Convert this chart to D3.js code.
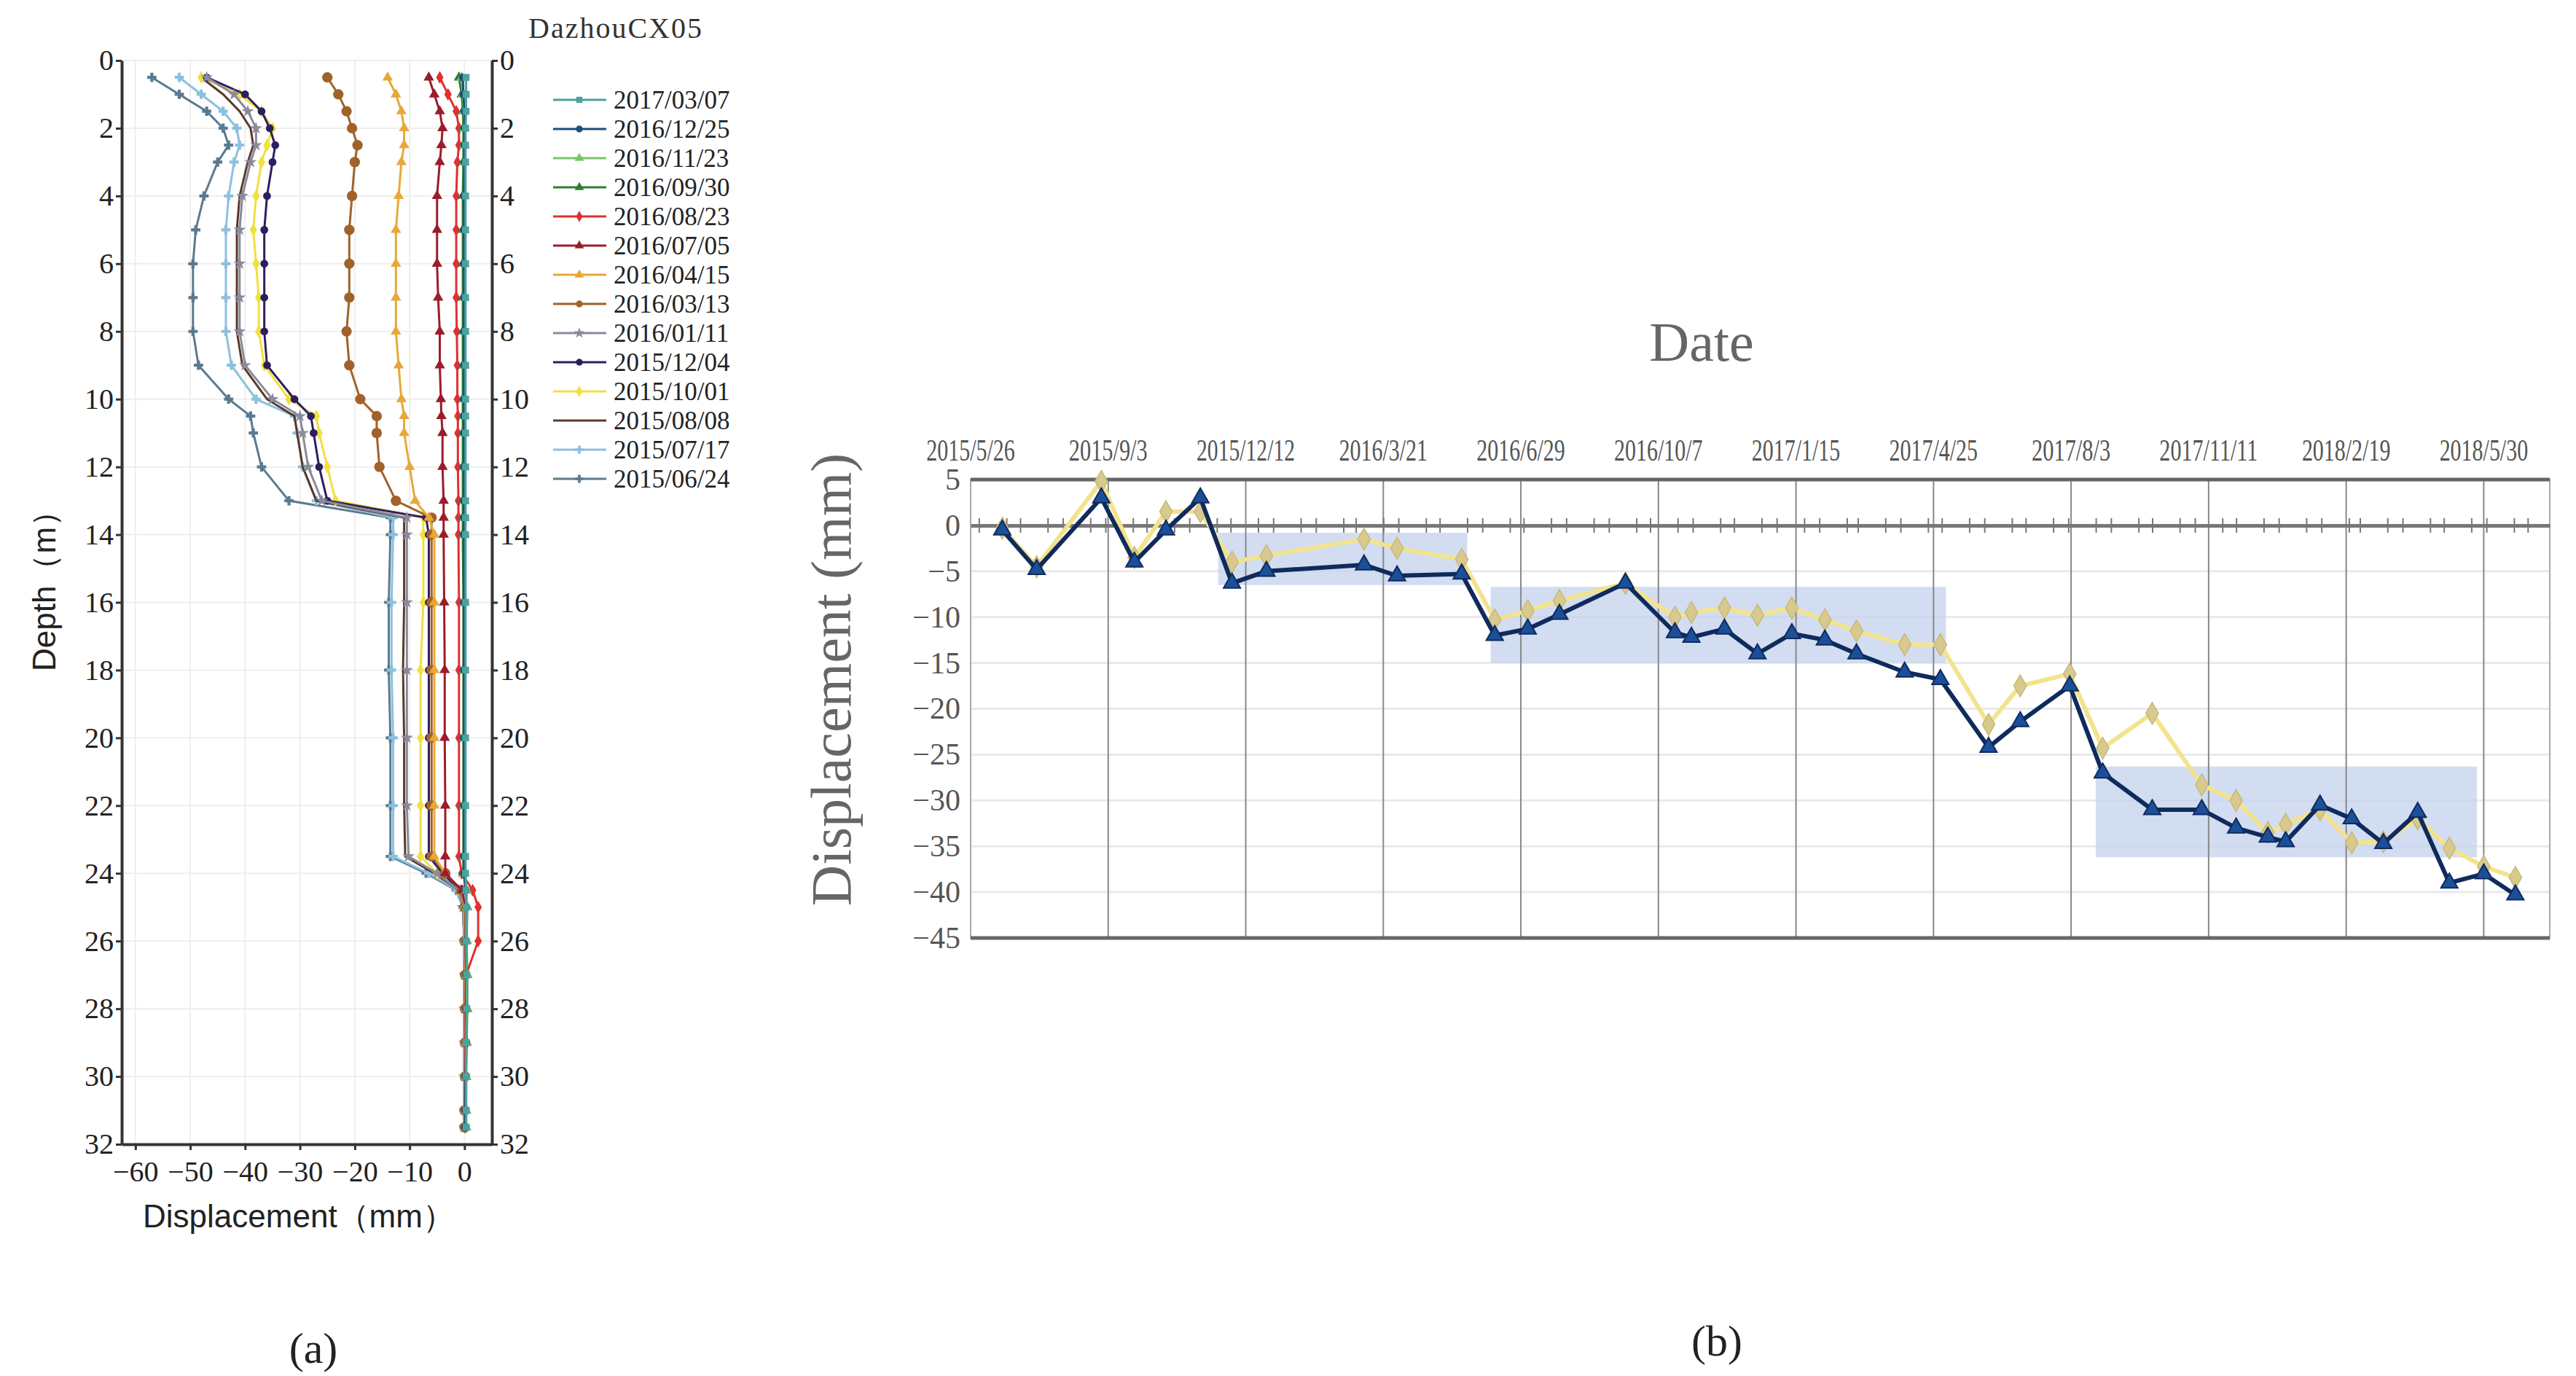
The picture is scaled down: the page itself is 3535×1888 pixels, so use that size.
<!DOCTYPE html>
<html>
<head>
<meta charset="utf-8">
<script src="https://cdn.jsdelivr.net/npm/d3@7"></script>
<style>
  body { margin: 0; background: #fff; }
  svg { display: block; }
</style>
</head>
<body>
<svg id="chart" width="3535" height="1888"></svg>
<script>
// ---------- panel (a) data: depth profiles ----------
const depths = [0.5, 1, 1.5, 2, 2.5, 3, 4, 5, 6, 7, 8, 9, 10, 10.5, 11, 12, 13, 13.5, 14, 16, 18, 20, 22, 23.5, 24, 24.5, 25, 26, 27, 28, 29, 30, 31, 31.5];

const profileDates = ["2017/03/07", "2016/12/25", "2016/11/23", "2016/09/30", "2016/08/23", "2016/07/05", "2016/04/15",
  "2016/03/13", "2016/01/11", "2015/12/04", "2015/10/01", "2015/08/08", "2015/07/17", "2015/06/24"];
const profileColors = ["#4aa3a0", "#1f4e79", "#7cc46a", "#2e7d32", "#e03030", "#9b1c2c", "#e8a838",
  "#a0622a", "#8a8a9a", "#2d1f5e", "#f0e040", "#5a3a2a", "#8cc0e0", "#5a7a90"];
const profileSymbols = ["square", "circle", "triangle", "triangle", "diamond", "triangle", "triangle",
  "circle", "star", "circle", "diamond", null, "cross", "cross"];

const p0307 = [0.3, 0.3, 0.3, 0.2, 0.2, 0.2, 0.2, 0.2, 0.2, 0.2, 0.2, 0.2, 0.2, 0.2, 0.2, 0.2, 0.2, 0.2, 0.2, 0.2, 0.2, 0.2, 0.2, 0.2, 0.2, 0.3, 0.3, 0.3, 0.4, 0.4, 0.3, 0.3, 0.3, 0.3];
const p1225 = [-0.3, -0.2, 0, 0, 0, 0, -0.1, -0.1, -0.1, -0.1, -0.1, -0.1, -0.1, -0.1, -0.1, -0.1, -0.1, -0.1, -0.1, -0.1, -0.1, -0.1, -0.1, -0.1, -0.1, 0.2, 0.3, 0.2, 0.3, 0.3, 0.3, 0.2, 0.1, 0.1];
const p1123 = [-0.5, -0.3, -0.1, 0, 0, 0, 0, 0, 0, 0, 0, 0, 0, 0, 0, 0, 0, 0, 0, 0, 0, 0, 0, 0, 0, 0.4, 0.4, 0.3, 0.4, 0.4, 0.3, 0.3, 0.3, 0.3];
const p0930 = [-1, -0.5, -0.3, -0.2, -0.2, -0.2, -0.3, -0.3, -0.3, -0.3, -0.3, -0.3, -0.3, -0.3, -0.3, -0.3, -0.3, -0.3, -0.3, -0.2, -0.2, -0.2, -0.2, -0.2, -0.2, 0.3, 0.5, 0.4, 0.5, 0.5, 0.4, 0.3, 0.3, 0.3];
const p0823 = [-4.5, -3, -1.5, -1, -1, -1.3, -1.5, -1.5, -1.5, -1.5, -1.4, -1.3, -1.3, -1.2, -1.2, -1.2, -1.1, -1.1, -1.1, -1, -1, -1, -1, -1, -0.5, 1.5, 2.5, 2.5, 0.3, 0.2, 0.2, 0.2, 0.2, 0.2];
const p0705 = [-6.5, -5.5, -4.5, -4, -4.2, -4.5, -5, -5, -5, -4.8, -4.5, -4.5, -4.3, -4.2, -4, -4, -3.8, -3.8, -3.8, -3.7, -3.6, -3.6, -3.5, -3.5, -3.5, -0.5, 0.2, 0.2, 0.3, 0.3, 0.2, 0.2, 0.2, 0.2];
const p0415 = [-14, -12.5, -11.5, -11, -11, -11.5, -12, -12.5, -12.5, -12.5, -12.5, -12, -11.5, -11, -11, -10, -9, -6.5, -5.5, -5.5, -5.5, -5.5, -5.5, -5.5, -3.5, -0.5, 0, 0, 0.2, 0.2, 0.1, 0.1, 0.1, 0.1];
const p0313 = [-25, -23, -21.5, -20.5, -19.5, -20, -20.5, -21, -21, -21, -21.5, -21, -19, -16, -16, -15.5, -12.5, -6, -6, -6, -6, -6, -6, -6, -3.5, -0.5, 0, 0, 0.1, 0.1, 0.1, 0.1, 0, 0];
const p0111 = [-47, -42, -39.5, -38, -38, -39, -40.5, -41, -41, -41, -41, -40, -35, -30, -29.5, -28.5, -26, -10.5, -10.5, -10.5, -10.5, -10.5, -10.5, -10.2, -5, -1, -0.3, 0, 0, 0, 0, 0, 0, 0];
const p1204 = [-47, -40, -37, -35.5, -34.5, -35, -36, -36.5, -36.5, -36.5, -36.5, -36, -31, -28, -27.5, -26.5, -25, -7, -6.5, -6.5, -6.5, -6.5, -6.5, -6.5, -4, -0.8, -0.2, 0, 0, 0, 0, 0, 0, 0];
const p1001 = [-48, -41, -37, -35, -36, -37, -38, -38.5, -38, -37.5, -37.5, -36.5, -32, -27, -26.5, -25, -23.5, -7.5, -7.5, -7.5, -8, -8, -8, -8, -5, -1, -0.3, 0, 0, 0, 0, 0, 0, 0];
const p0808 = [-48, -44, -41, -39, -38.5, -39.5, -41, -41.5, -41.5, -41.5, -41.5, -40.5, -36, -31, -30.5, -29.5, -27, -11, -11, -11, -11.2, -11, -11, -10.8, -5.5, -1, -0.3, 0, 0, 0, 0, 0, 0, 0];
const p0717 = [-52, -48, -44, -41.5, -41, -42, -43, -43.5, -43.5, -43.5, -43.5, -42.5, -38, -31, -30.5, -29.5, -27, -13, -13, -13.3, -13.3, -13, -13, -13, -6.5, -1.3, -0.3, 0, 0, 0, 0, 0, 0, 0];
const p0624 = [-57, -52, -47, -44, -43, -45, -47.5, -49, -49.5, -49.5, -49.5, -48.5, -43, -39, -38.5, -37, -32, -13.5, -13.5, -13.8, -13.8, -13.5, -13.5, -13.5, -7, -1.5, -0.3, 0, 0, 0, 0, 0, 0, 0];
const profiles = [p0307, p1225, p1123, p0930, p0823, p0705, p0415, p0313, p0111, p1204, p1001, p0808, p0717, p0624];

const depthTicks = d3.range(0, 33, 2);
const dispTicksA = [-60, -50, -40, -30, -20, -10, 0];

// ---------- panel (b) data: displacement over time ----------
const startDate = "2015/05/26";
const endDate = "2018/07/17";
const dateTickLabels = ["2015/5/26", "2015/9/3", "2015/12/12", "2016/3/21", "2016/6/29", "2016/10/7", "2017/1/15",
  "2017/4/25", "2017/8/3", "2017/11/11", "2018/2/19", "2018/5/30"];
// survey days counted from 2015/5/26
const surveyDays = [23, 48, 95, 119, 142, 167, 190, 215, 286, 310, 357, 381, 405, 428, 476, 512, 524, 548, 572, 597,
  621, 644, 679, 705, 740, 763, 799, 823, 859, 895, 920, 943, 956, 981, 1004, 1027, 1052, 1075, 1100, 1123];
const navySeries = [-0.5, -4.8, 3, -4, -0.5, 3, -6.3, -5, -4.3, -5.5, -5.3, -12, -11.3, -9.7, -6.3, -11.7, -12.2, -11.3, -14, -11.8,
  -12.5, -14, -16, -16.8, -24.2, -21.4, -17.5, -27, -31, -31, -33, -34, -34.5, -30.5, -32, -34.7, -31.3, -39, -38, -40.3];
const yellowSeries = [-0.3, -4.5, 4.8, -3.5, 1.5, 1.5, -4, -3.3, -1.5, -2.5, -3.7, -10.3, -9.3, -8.2, -6.3, -10, -9.5, -9, -9.8, -9,
  -10.3, -11.5, -13, -13, -21.7, -17.5, -16.2, -24.3, -20.5, -28.3, -30, -33.5, -32.6, -31, -34.6, -34.5, -32, -35.2, -37.2, -38.4];
// shaded periods: [start day, end day, top mm, bottom mm]
const bands = [[180, 361, -0.8, -6.5], [378, 709, -6.7, -15], [818, 1095, -26.3, -36.2]];
const dispTicksB = d3.range(5, -46, -5);

const svg = d3.select('#chart');
const serif = '"Liberation Serif", "DejaVu Serif", serif';
const sans = '"Liberation Sans", Arial, sans-serif';

// ================= panel (a) =================
const a = { left: 167, right: 675, top: 83, bottom: 1570 };
const xA = d3.scaleLinear().domain([-62.5, 5]).range([a.left, a.right]);
const yA = d3.scaleLinear().domain([0, 32]).range([a.top, a.bottom]);
const gA = svg.append('g');

// faint grid
gA.append('g').selectAll('line').data(dispTicksA).join('line')
  .attr('x1', d => xA(d)).attr('x2', d => xA(d)).attr('y1', a.top).attr('y2', a.bottom)
  .attr('stroke', '#eee').attr('stroke-width', 2);
gA.append('g').selectAll('line').data(depthTicks).join('line')
  .attr('x1', a.left).attr('x2', a.right).attr('y1', d => yA(d)).attr('y2', d => yA(d))
  .attr('stroke', '#eee').attr('stroke-width', 2);

const line = d3.line().x(d => xA(d[0])).y(d => yA(d[1]));
const symbolTypes = { square: d3.symbolSquare, circle: d3.symbolCircle, triangle: d3.symbolTriangle,
  diamond: d3.symbolDiamond, star: d3.symbolStar, cross: d3.symbolCross };

// draw from oldest to newest so newest is on top
d3.range(profiles.length - 1, -1, -1).forEach(i => {
  const pts = profiles[i].map((v, k) => [v, depths[k]]);
  gA.append('path').datum(pts).attr('d', line)
    .attr('fill', 'none').attr('stroke', profileColors[i]).attr('stroke-width', 3);
  if (profileSymbols[i]) {
    const sz = profileSymbols[i] === 'circle' && i === 7 ? 160 : 90;
    gA.append('g').selectAll('path').data(pts).join('path')
      .attr('transform', d => `translate(${xA(d[0])},${yA(d[1])})`)
      .attr('d', d3.symbol(symbolTypes[profileSymbols[i]], sz))
      .attr('fill', profileColors[i]);
  }
});

// axes
const axL = gA.append('g').attr('transform', `translate(${a.left},0)`)
  .call(d3.axisLeft(yA).tickValues(depthTicks).tickSize(8).tickSizeOuter(0));
const axR = gA.append('g').attr('transform', `translate(${a.right},0)`)
  .call(d3.axisRight(yA).tickValues(depthTicks).tickSize(8).tickSizeOuter(0));
const axB = gA.append('g').attr('transform', `translate(0,${a.bottom})`)
  .call(d3.axisBottom(xA).tickValues(dispTicksA).tickSize(8).tickSizeOuter(0));
[axL, axR, axB].forEach(ax => {
  ax.select('.domain').attr('stroke', '#333').attr('stroke-width', 4);
  ax.selectAll('.tick line').attr('stroke', '#333').attr('stroke-width', 3);
  ax.selectAll('text').attr('font-family', serif).attr('font-size', 40).attr('fill', '#222');
});
axB.selectAll('text').attr('dy', '1em');

gA.append('text').attr('x', 410).attr('y', 1684).attr('text-anchor', 'middle')
  .attr('font-family', sans).attr('font-size', 44).attr('fill', '#222').text('Displacement（mm）');
gA.append('text').attr('transform', 'translate(76,800) rotate(-90)').attr('text-anchor', 'middle')
  .attr('font-family', sans).attr('font-size', 44).attr('fill', '#222').text('Depth（m）');
gA.append('text').attr('x', 725).attr('y', 52)
  .attr('font-family', serif).attr('font-size', 40).attr('letter-spacing', 2).attr('fill', '#333').text('DazhouCX05');

// legend
const leg = gA.append('g').attr('transform', 'translate(759,137)');
const legItems = leg.selectAll('g').data(profileDates).join('g')
  .attr('transform', (d, i) => `translate(0,${i * 40})`);
legItems.append('line').attr('x1', 0).attr('x2', 73)
  .attr('stroke', (d, i) => profileColors[i]).attr('stroke-width', 3);
legItems.filter((d, i) => profileSymbols[i])
  .append('path').attr('transform', 'translate(36,0)')
  .attr('d', d => d3.symbol(symbolTypes[profileSymbols[profileDates.indexOf(d)]], 70)())
  .attr('fill', d => profileColors[profileDates.indexOf(d)]);
legItems.append('text').attr('x', 83).attr('y', 0).attr('dy', '0.35em')
  .attr('font-family', serif).attr('font-size', 35).attr('fill', '#222').text(d => d);

svg.append('text').attr('x', 430).attr('y', 1870).attr('text-anchor', 'middle')
  .attr('font-family', serif).attr('font-size', 60).attr('fill', '#222').text('(a)');

// ================= panel (b) =================
const b = { left: 1332, right: 3499, top: 658, bottom: 1287 };
const parse = d3.timeParse('%Y/%m/%d');
const t0 = parse(startDate);
const xB = d3.scaleTime().domain([t0, parse(endDate)]).range([b.left, b.right]);
const yB = d3.scaleLinear().domain([5, -45]).range([b.top, b.bottom]);
const dayToDate = n => d3.timeDay.offset(t0, n);
const gB = svg.append('g');

// horizontal faint grid
gB.append('g').selectAll('line').data(dispTicksB.slice(1, -1)).join('line')
  .attr('x1', b.left).attr('x2', b.right).attr('y1', d => yB(d)).attr('y2', d => yB(d))
  .attr('stroke', '#eaeaea').attr('stroke-width', 3);

// shaded bands
gB.append('g').selectAll('rect').data(bands).join('rect')
  .attr('x', d => xB(dayToDate(d[0]))).attr('width', d => xB(dayToDate(d[1])) - xB(dayToDate(d[0])))
  .attr('y', d => yB(d[2])).attr('height', d => yB(d[3]) - yB(d[2]))
  .attr('fill', '#c3d1ee').attr('opacity', 0.75);

// vertical grid at date labels
const tickDates = dateTickLabels.map(s => d3.timeParse('%Y/%-m/%-d')(s));
gB.append('g').selectAll('line').data(tickDates.slice(1)).join('line')
  .attr('x1', d => xB(d)).attr('x2', d => xB(d)).attr('y1', b.top).attr('y2', b.bottom)
  .attr('stroke', '#888').attr('stroke-width', 2);

// frame
gB.append('rect').attr('x', b.left).attr('y', b.top).attr('width', b.right - b.left).attr('height', b.bottom - b.top)
  .attr('fill', 'none').attr('stroke', '#aaa').attr('stroke-width', 2);
[b.top, b.bottom].forEach(y => gB.append('line').attr('x1', b.left).attr('x2', b.right)
  .attr('y1', y).attr('y2', y).attr('stroke', '#666').attr('stroke-width', 5));

// zero line with minor ticks
const zeroAx = gB.append('g').attr('transform', `translate(0,${yB(0)})`)
  .call(d3.axisBottom(xB).ticks(d3.timeDay.every(20)).tickSize(10).tickFormat('').tickSizeOuter(0));
zeroAx.select('.domain').attr('stroke', '#777').attr('stroke-width', 5);
zeroAx.selectAll('.tick line').attr('y1', -10).attr('stroke', '#777').attr('stroke-width', 2);

// top date labels
gB.append('g').selectAll('text').data(dateTickLabels).join('text')
  .attr('x', (d, i) => xB(tickDates[i])).attr('y', 632).attr('text-anchor', 'middle')
  .attr('font-family', serif).attr('font-size', 42).attr('fill', '#555')
  .attr('textLength', d => d.length * 13.5).attr('lengthAdjust', 'spacingAndGlyphs').text(d => d);

// left axis labels
const axYB = gB.append('g').attr('transform', `translate(${b.left},0)`)
  .call(d3.axisLeft(yB).tickValues(dispTicksB).tickSize(0).tickPadding(14));
axYB.select('.domain').remove();
axYB.selectAll('text').attr('font-family', serif).attr('font-size', 42).attr('fill', '#555');

gB.append('text').attr('transform', `translate(1140,${(b.top + b.bottom) / 2 - 40}) rotate(-90)`)
  .attr('text-anchor', 'middle').attr('dy', '0.35em')
  .attr('font-family', serif).attr('font-size', 78).attr('fill', '#666').text('Displacement (mm)');
gB.append('text').attr('x', 2335).attr('y', 495).attr('text-anchor', 'middle')
  .attr('font-family', serif).attr('font-size', 76).attr('fill', '#666').text('Date');

// series lines
const lineB = d3.line().x(d => xB(dayToDate(d[0]))).y(d => yB(d[1]));
const yPts = surveyDays.map((d, i) => [d, yellowSeries[i]]);
const nPts = surveyDays.map((d, i) => [d, navySeries[i]]);
gB.append('path').datum(yPts).attr('d', lineB).attr('fill', 'none')
  .attr('stroke', '#f3e38c').attr('stroke-width', 6);
gB.append('g').selectAll('path').data(yPts).join('path')
  .attr('transform', d => `translate(${xB(dayToDate(d[0]))},${yB(d[1])})`)
  .attr('d', d3.symbol(d3.symbolDiamond, 260)).attr('fill', '#d8c98e').attr('stroke', '#c9b877').attr('stroke-width', 1.5);
gB.append('path').datum(nPts).attr('d', lineB).attr('fill', 'none')
  .attr('stroke', '#0f2b5c').attr('stroke-width', 6);
gB.append('g').selectAll('path').data(nPts).join('path')
  .attr('transform', d => `translate(${xB(dayToDate(d[0]))},${yB(d[1])})`)
  .attr('d', d3.symbol(d3.symbolTriangle, 230)).attr('fill', '#1c4f9a').attr('stroke', '#0f2b5c').attr('stroke-width', 2);

svg.append('text').attr('x', 2356).attr('y', 1860).attr('text-anchor', 'middle')
  .attr('font-family', serif).attr('font-size', 60).attr('fill', '#222').text('(b)');
</script>
</body>
</html>
